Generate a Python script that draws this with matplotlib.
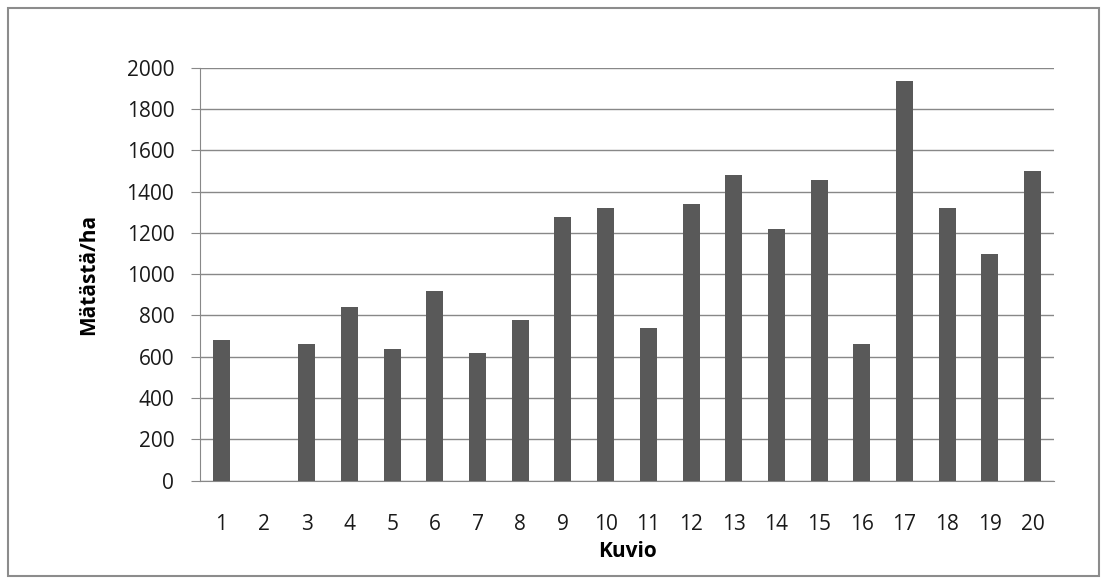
import matplotlib.pyplot as plt
from matplotlib.patches import Rectangle

# Mätästä per hectare for each kuvio (stand)
kuviot = [str(i) for i in range(1, 21)]
matasta = [680, 0, 660, 840, 640, 920, 620, 780, 1275, 1320,
           740, 1340, 1480, 1220, 1455, 660, 1935, 1320, 1100, 1500]
y_ticks = list(range(0, 2001, 200))

plt.rcParams['font.family'] = ['Open Sans', 'DejaVu Sans']

fig = plt.figure(figsize=(11.07, 5.84), dpi=100)
ax = fig.add_axes([200 / 1107, 1 - 480.7 / 584, 854 / 1107, 413 / 584])

x = range(len(kuviot))
ax.bar(x, matasta, width=0.4, color='#595959', zorder=3)

ax.set_xlim(-0.5, len(kuviot) - 0.5)
ax.set_ylim(0, 2000)
ax.set_yticks(y_ticks)
ax.set_xticks(list(x))
ax.set_xticklabels(kuviot)

# Gridlines and axis styling
ax.yaxis.grid(True, color='#888888', linewidth=1.0, zorder=0)
for side in ('top', 'right'):
    ax.spines[side].set_visible(False)
ax.spines['left'].set_color('#888888')
ax.spines['bottom'].set_color('#888888')
ax.tick_params(axis='y', length=6.5, color='#888888', labelsize=15, pad=12,
               labelcolor='#1a1a1a')
ax.tick_params(axis='x', length=0, labelsize=15, pad=24, labelcolor='#1a1a1a')

ax.set_ylabel('Mätästä/ha', fontsize=15, fontweight='bold', labelpad=20)
ax.set_xlabel('Kuvio', fontsize=15, fontweight='bold', labelpad=4)

# Chart border
fig.patches.append(Rectangle((8 / 1107, 8 / 584), 1091 / 1107, 568 / 584,
                             transform=fig.transFigure, fill=False,
                             edgecolor='#8c8c8c', linewidth=1.5))

fig.savefig('out.png', dpi=100)
